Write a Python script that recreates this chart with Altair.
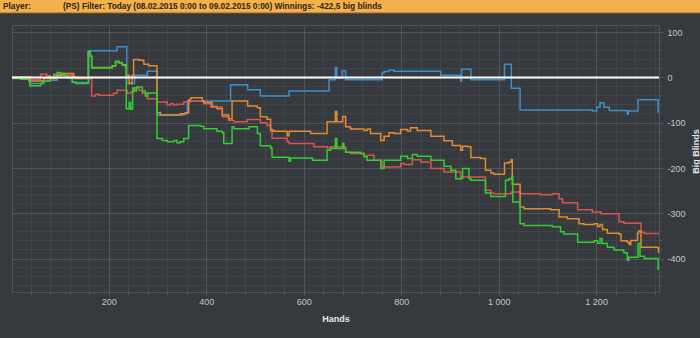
import altair as alt
import pandas as pd

# ---- data (hands, big blinds); step-after lines ----
BLUE = [(2,1),(36,-2),(39,-13),(63,-8),(80,-6),(94,0),(125,-11),(159,59),(216,59),(217,68),
        (236,68),(237,-13),(253,5),(279,14),(299,-83),(354,-80),(361,-52),(450,-16),(485,-27),
        (511,-41),(570,-30),(652,-5),(665,22),(668,-1),(679,15),(686,-5),(761,10),(765,13),
        (775,16),(785,14),(881,5),(922,-8),(924,18),(934,18),(943,-5),(1012,29),(1026,-24),
        (1044,-72),(1141,-72),(1192,-74),(1201,-66),(1208,-56),(1216,-66),(1227,-73),(1264,-81),
        (1266,-74),(1286,-49),(1327,-76),(1329,-76)]

ORANGE = [(2,0),(39,-8),(67,-2),(94,5),(104,9),(128,1),(132,-2),(158,57),(162,47),(165,22),
          (207,25),(214,35),(221,32),(228,28),(236,5),(242,-13),(248,5),(251,40),(262,38),
          (272,29),(282,26),(299,-78),(306,-83),(347,-80),(357,-78),(364,-50),(368,-45),
          (392,-52),(395,-55),(412,-64),(422,-69),(433,-83),(446,-91),(453,-52),(485,-63),
          (505,-67),(511,-87),(525,-92),(532,-117),(539,-119),(563,-119),(566,-129),(570,-119),
          (614,-124),(648,-98),(665,-75),(668,-98),(680,-86),(686,-109),(696,-114),(724,-117),
          (730,-114),(737,-124),(758,-139),(765,-130),(775,-122),(785,-124),(799,-115),
          (813,-118),(819,-111),(833,-117),(861,-130),(888,-140),(905,-150),(922,-161),
          (926,-152),(936,-153),(943,-177),(963,-179),(973,-205),(984,-211),(990,-214),
          (1012,-189),(1021,-187),(1026,-182),(1028,-236),(1044,-286),(1052,-290),(1107,-292),
          (1124,-308),(1141,-312),(1165,-323),(1175,-325),(1196,-323),(1203,-329),(1208,-325),
          (1213,-336),(1223,-344),(1247,-346),(1251,-361),(1264,-364),(1268,-369),(1271,-360),
          (1285,-344),(1287,-339),(1292,-375),(1326,-376),(1328,-386),(1329,-386)]

RED = [(2,1),(39,-5),(60,7),(73,4),(80,0),(87,7),(108,5),(125,-2),(165,-41),(173,-37),
       (180,-39),(210,-35),(217,-28),(238,-35),(245,-32),(251,-23),(262,-28),(269,-35),
       (279,-47),(299,-54),(320,-60),(327,-58),(333,-61),(340,-59),(354,-54),(368,-52),
       (395,-58),(409,-65),(433,-87),(446,-95),(457,-98),(484,-93),(511,-100),(525,-106),
       (532,-113),(535,-134),(566,-142),(570,-146),(621,-153),(648,-156),(655,-153),
       (680,-146),(682,-153),(686,-165),(696,-168),(724,-174),(730,-172),(744,-183),
       (761,-198),(799,-190),(806,-192),(823,-182),(840,-187),(861,-201),(888,-209),
       (922,-220),(973,-249),(984,-255),(990,-257),(1026,-253),(1045,-257),(1086,-259),
       (1110,-257),(1124,-268),(1131,-277),(1162,-292),(1192,-297),(1210,-301),(1247,-319),
       (1257,-322),(1292,-342),(1299,-345),(1329,-345)]

GREEN = [(2,-2),(19,-4),(36,-8),(38,-18),(60,-13),(67,-8),(80,-1),(87,5),(94,11),(101,9),
         (108,5),(115,-1),(125,-10),(132,-13),(158,57),(162,47),(165,21),(207,26),(214,36),
         (221,33),(228,27),(234,23),(236,-69),(242,-55),(245,-70),(249,-23),(253,-30),
         (257,-21),(269,-30),(275,-41),(280,-35),(286,-34),(299,-135),(310,-139),(320,-142),
         (334,-139),(340,-144),(347,-142),(354,-135),(364,-106),(388,-108),(395,-113),
         (422,-119),(433,-122),(436,-146),(453,-109),(457,-113),(488,-109),(505,-124),
         (511,-151),(532,-156),(535,-176),(570,-185),(573,-178),(618,-183),(648,-161),
         (655,-157),(665,-135),(668,-157),(680,-146),(682,-157),(686,-165),(717,-168),
         (724,-175),(730,-183),(758,-201),(765,-183),(799,-174),(813,-179),(823,-170),
         (833,-174),(861,-183),(888,-196),(902,-205),(912,-224),(926,-201),(939,-224),
         (943,-227),(973,-255),(984,-263),(1014,-227),(1021,-224),(1027,-218),(1029,-275),
         (1044,-323),(1052,-327),(1110,-330),(1127,-341),(1134,-346),(1162,-364),(1196,-361),
         (1203,-366),(1208,-356),(1212,-367),(1223,-375),(1237,-381),(1257,-387),(1264,-404),
         (1267,-397),(1286,-367),(1290,-395),(1299,-400),(1327,-423),(1329,-423)]

SERIES = ["blue", "red", "orange", "green"]
COLORS = ["#3d8fcc", "#d9534f", "#e28b30", "#33cc33"]
X_TICKS = list(range(40, 1329, 40))          # minor + major x ticks
Y_MAJOR = [100, 0, -100, -200, -300, -400]    # labelled y ticks
Y_MINOR = [v for v in range(-460, 101, 20) if v % 100 != 0]
HEADER_LEFT = "Player:"
HEADER_TEXT = "(PS) Filter: Today (08.02.2015 0:00 to 09.02.2015 0:00) Winnings: -422,5 big blinds"

rows = []
for name, pts in zip(SERIES, [BLUE, RED, ORANGE, GREEN]):
    for i, (h, v) in enumerate(pts):
        rows.append({"series": name, "hands": h, "bb": v, "i": i})
df = pd.DataFrame(rows)

BG = "#36393d"
MAJOR = "#52565b"
MINOR = "#42464b"
LABEL = "#c4c6c8"
FONT = "Liberation Sans"

W, H = 647, 267

xscale = alt.Scale(domain=[1.5, 1329], nice=False, zero=False)
yscale = alt.Scale(domain=[-474, 116], nice=False, zero=False)

xenc = alt.X("hands:Q", scale=xscale,
             axis=alt.Axis(values=X_TICKS, title="Hands",
                           labelExpr="datum.value % 200 === 0 ? replace(format(datum.value, ','), ',', ' ') : ''",
                           gridColor={"condition": {"test": "datum.value % 200 === 0", "value": MAJOR}, "value": MINOR},
                           tickColor=MAJOR, tickSize=3, labelPadding=2, domain=False,
                           labelOverlap=False, labelFlush=False, labelColor=LABEL,
                           labelFont=FONT, labelFontSize=9, titleFont=FONT, titleFontSize=9,
                           titleFontWeight="bold", titleColor="#e6e6e6", titlePadding=8))
yenc = alt.Y("bb:Q", scale=yscale,
             axis=alt.Axis(values=Y_MAJOR, title="Big Blinds", orient="right",
                           labelExpr="'' + datum.value",
                           gridColor=MAJOR,
                           tickColor=MAJOR, tickSize=4, labelPadding=4, domain=False,
                           labelOverlap=False, labelFlush=False, labelColor=LABEL,
                           labelFont=FONT, labelFontSize=9, labelAlign="left",
                           titleFont=FONT, titleFontSize=9, titleFontWeight="bold",
                           titleColor="#e6e6e6", titleAngle=270, titleX=36, titleY=126,
                           titleAlign="center", titleBaseline="middle"))

minor_df = pd.DataFrame({"bb": Y_MINOR})
minor_grid = alt.Chart(minor_df).mark_rule(color=MINOR, strokeWidth=1).encode(
    y=alt.Y("bb:Q", scale=yscale))
minor_ticks = alt.Chart(minor_df).mark_rule(color=MAJOR, strokeWidth=1).encode(
    y=alt.Y("bb:Q", scale=yscale), x=alt.value(W), x2=alt.value(W + 3))

lines = alt.Chart(df).mark_line(interpolate="step-after", strokeWidth=1.5).encode(
    x=xenc, y=yenc,
    color=alt.Color("series:N", scale=alt.Scale(domain=SERIES, range=COLORS), legend=None),
    order="i:Q",
    detail="series:N",
)

zero = alt.Chart(pd.DataFrame({"bb": [0]})).mark_rule(color="white", strokeWidth=2).encode(
    y=alt.Y("bb:Q", scale=yscale))

hdr = pd.DataFrame({"a": [0]})
bar = alt.Chart(hdr).mark_rect(color="#f4b04a").encode(
    x=alt.value(-12), x2=alt.value(688), y=alt.value(-25), y2=alt.value(-13))
bar_line = alt.Chart(hdr).mark_rect(color="#c98a2e").encode(
    x=alt.value(-12), x2=alt.value(688), y=alt.value(-13), y2=alt.value(-11.7))
t1 = alt.Chart(hdr).mark_text(align="left", baseline="alphabetic", font=FONT, fontSize=8.3,
                              fontWeight="bold", color="#2b2416").encode(
    x=alt.value(-9), y=alt.value(-16), text=alt.value(HEADER_LEFT))
t2 = alt.Chart(hdr).mark_text(align="left", baseline="alphabetic", font=FONT, fontSize=8.3,
                              fontWeight="bold", color="#2b2416").encode(
    x=alt.value(51), y=alt.value(-16), text=alt.value(HEADER_TEXT))

chart = alt.layer(minor_grid, minor_ticks, lines, zero, bar, bar_line, t1, t2).properties(
    width=W, height=H,
    autosize=alt.AutoSizeParams(type="none"),
    padding={"left": 12, "top": 25, "right": 41, "bottom": 46},
    background=BG,
).configure_view(stroke=MAJOR, fill=BG, strokeWidth=1)

chart.save("out.html", embed_options={"renderer": "svg", "actions": False})
